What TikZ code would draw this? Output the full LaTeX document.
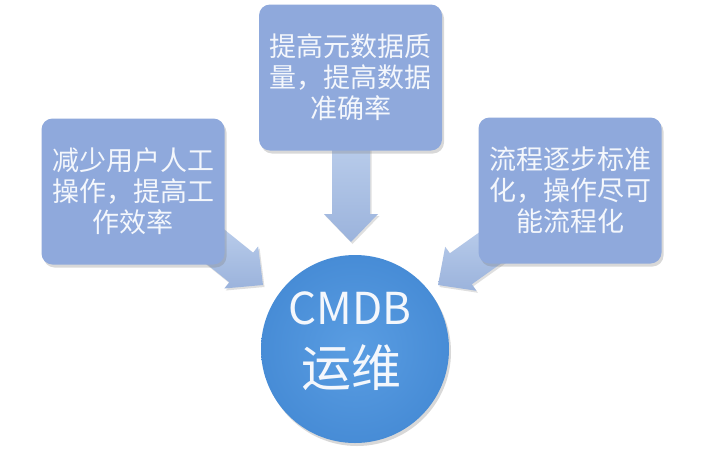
\documentclass[tikz,border=0pt]{standalone}
\usepackage{fontspec}
\setmainfont{Noto Sans CJK SC}
\usetikzlibrary{calc,shadows,backgrounds}
\definecolor{boxfill}{HTML}{8FA9DC}
\definecolor{arrowA}{HTML}{BACDEB}
\definecolor{arrowB}{HTML}{9BB3DC}
\definecolor{circA}{HTML}{5A9DE2}
\definecolor{circB}{HTML}{478CD6}
\definecolor{txt}{HTML}{F4F7FC}
\tikzset{
  infobox/.style={rounded corners=11pt, fill=boxfill, draw=none,
    minimum width=183pt, minimum height=146pt, inner sep=0pt,
    drop shadow={shadow xshift=2pt, shadow yshift=-3pt, opacity=0.3},
    text=txt, align=center, font=\fontsize{27}{31}\selectfont},
  arrowbody/.style={top color=arrowA, bottom color=arrowB, draw=none,
    drop shadow={shadow xshift=1.5pt, shadow yshift=-2pt, opacity=0.25}},
  hub/.style={circle, minimum size=188pt, inner sep=0pt, draw=none,
    inner color=circA, outer color=circB,
    drop shadow={shadow xshift=2pt, shadow yshift=-3pt, opacity=0.3}},
  hubtext/.style={text=txt, inner sep=0pt}
}
\newcommand\blockarrow[2]{%
  \coordinate (ba-base) at ($(#2)!28pt!(#1)$);
  \path[arrowbody] ($(#1)!19pt!90:(#2)$) -- ($(ba-base)!19pt!90:(#2)$)
    -- ($(ba-base)!27pt!90:(#2)$) -- (#2) -- ($(ba-base)!27pt!-90:(#2)$)
    -- ($(ba-base)!19pt!-90:(#2)$) -- ($(#1)!19pt!-90:(#2)$) -- cycle;
}
\begin{document}
\begin{tikzpicture}[x=1pt,y=-1pt]
\useasboundingbox (0,0) rectangle (720,450);
\node[infobox] (lbox) at (133,191.5) {减少用户人工\\操作，提高工\\作效率};
\node[infobox] (tbox) at (350.5,77.5) {提高元数据质\\量，提高数据\\准确率};
\node[infobox] (rbox) at (570,190.5) {流程逐步标准\\化，操作尽可\\能流程化};
\node[hub] (cmdb) at (355,349) {};
\node[hubtext, font=\fontsize{44}{44}\selectfont] (cmdbtxt) at (350,308) {CMDB};
\node[hubtext, font=\fontsize{50}{50}\selectfont] (ywtxt) at (351,368) {运维};
\coordinate (ls) at ($(lbox.south east)+(-18,-25)$);
\coordinate (lt) at (263,285);
\coordinate (ts) at ($(tbox.south)+(0.5,-10)$);
\coordinate (tt) at (351,242);
\coordinate (rs) at ($(rbox.south west)+(22,-23)$);
\coordinate (rt) at (438,285);
\begin{pgfonlayer}{background}
\fill[white] (0,0) rectangle (720,450);
\blockarrow{ls}{lt}
\blockarrow{ts}{tt}
\blockarrow{rs}{rt}
\end{pgfonlayer}
\end{tikzpicture}
\end{document}
